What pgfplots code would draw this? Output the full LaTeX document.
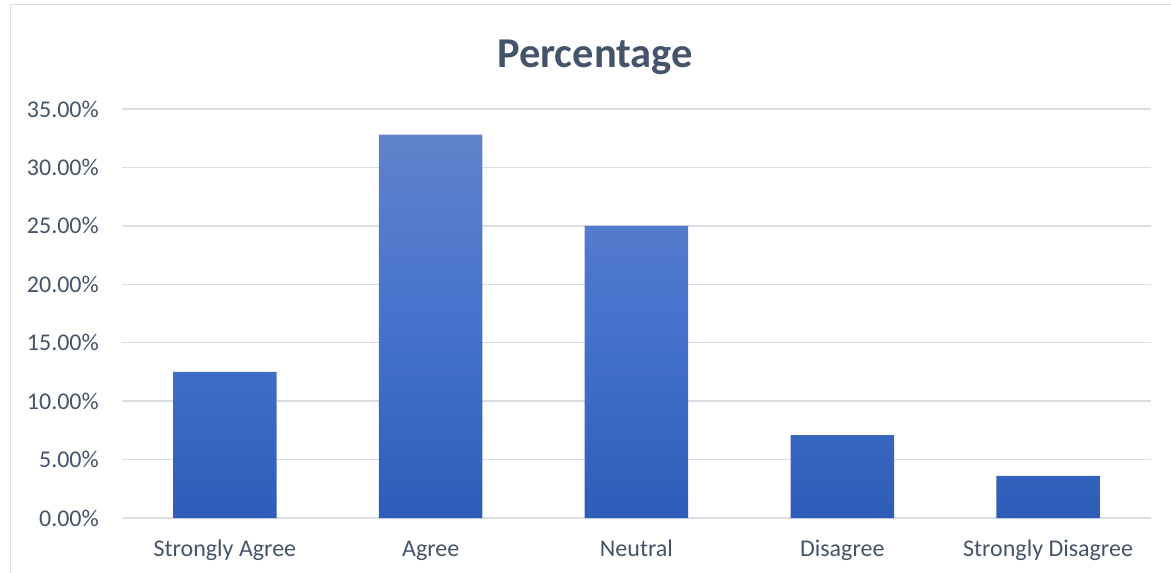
\documentclass[border=0pt]{standalone}
\usepackage{pgfplots}
\pgfplotsset{compat=1.18}
\usepackage{fontspec}
\setmainfont{Carlito}
\definecolor{txt}{RGB}{68,84,106}
\definecolor{gridc}{RGB}{217,221,228}
\definecolor{frame}{RGB}{217,222,232}
\definecolor{barTop}{RGB}{97,130,203}
\definecolor{barMid}{RGB}{68,114,205}
\definecolor{barBot}{RGB}{46,93,185}
\begin{document}
\begin{tikzpicture}
\useasboundingbox (0,0) rectangle (1171bp,573bp);
% chart frame (left and top edges)
\draw[frame, line width=1.5bp] (10.5bp,0) -- (10.5bp,568.5bp) -- (1171bp,568.5bp);
\node[anchor=base, text=txt, inner sep=0pt, font=\fontsize{42.5bp}{50bp}\selectfont\bfseries] at (595bp,505bp) {Percentage};
\begin{axis}[
  at={(122bp,55bp)}, anchor=south west,
  scale only axis, width=1029bp, height=409bp,
  xmin=-0.5, xmax=4.5, ymin=0, ymax=35,
  xtick={0,1,2,3,4},
  xticklabels={Strongly Agree,Agree,Neutral,Disagree,Strongly Disagree},
  ytick={0,5,10,15,20,25,30,35},
  yticklabels={0.00\%,5.00\%,10.00\%,15.00\%,20.00\%,25.00\%,30.00\%,35.00\%},
  axis line style={draw=none},
  major tick length=0pt,
  ymajorgrids,
  major grid style={gridc, line width=1.5bp},
  tick label style={text=txt, font=\fontsize{24bp}{28bp}\selectfont, inner sep=0pt},
  yticklabel style={anchor=east, xshift=-23bp},
  xticklabel style={anchor=base, yshift=-38bp},
  clip=false,
]
\addplot[ybar, bar width=103.5bp, draw=none,
  top color=barTop, bottom color=barBot, middle color=barMid]
  coordinates {(0,12.5) (1,32.8) (2,25.0) (3,7.1) (4,3.6)};
\end{axis}
\end{tikzpicture}
\end{document}
